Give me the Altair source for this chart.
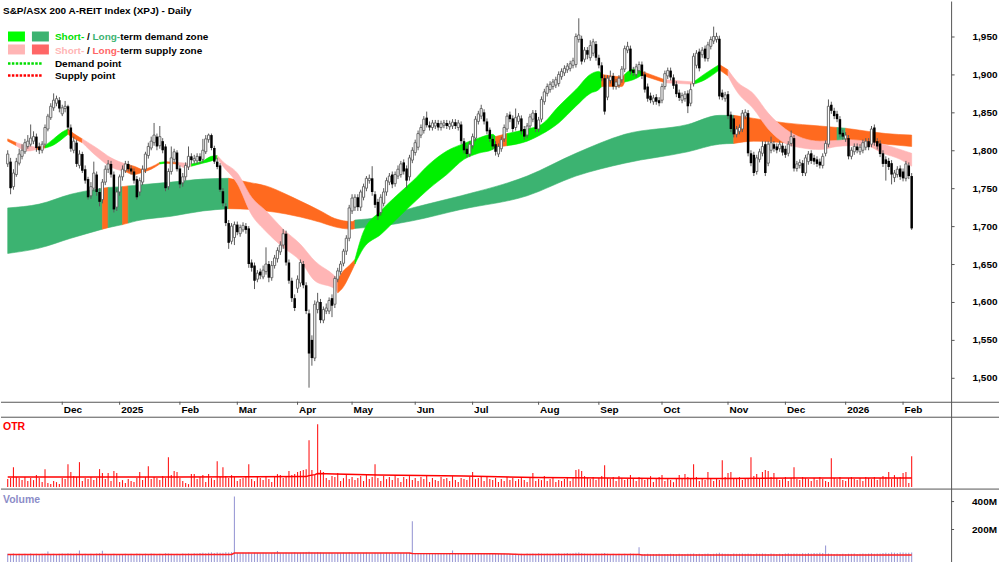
import altair as alt
import pandas as pd

FONT = "Liberation Sans"

# ---------------- daily candles (trading-day index 1..316) ----------------
OPEN = [
    1782,1785,1752,1768,1783,1792,1798,1805,1808,1812,
    1818,1805,1800,1808,1828,1843,1856,1862,1866,1848,
    1855,1858,1830,1800,1810,1780,1795,1775,1762,1740,
    1750,1768,1745,1735,1758,1775,1782,1768,1725,1745,
    1765,1773,1782,1776,1772,1762,1745,1758,1775,1793,
    1803,1810,1818,1806,1812,1805,1752,1772,1788,1797,
    1776,1757,1765,1778,1792,1786,1786,1792,1788,1798,
    1814,1820,1803,1785,1780,1746,1726,1704,1680,1685,
    1702,1690,1695,1700,1697,1652,1648,1630,1640,1633,
    1640,1650,1632,1648,1657,1666,1675,1690,1652,1628,
    1605,1618,1625,1650,1622,1585,1550,1526,1590,1600,
    1576,1588,1588,1605,1597,1630,1640,1651,1667,1684,
    1720,1725,1738,1725,1738,1750,1760,1763,1742,1732,
    1718,1730,1745,1758,1768,1756,1766,1768,1784,1776,
    1765,1787,1797,1804,1820,1826,1843,1833,1830,1832,
    1836,1830,1833,1836,1831,1832,1837,1830,1834,1812,
    1802,1795,1806,1816,1838,1845,1850,1838,1827,1815,
    1808,1795,1802,1815,1828,1847,1842,1830,1838,1842,
    1828,1820,1832,1841,1849,1828,1841,1864,1875,1880,
    1884,1886,1888,1897,1902,1906,1908,1912,1913,1946,
    1947,1920,1932,1922,1928,1940,1922,1912,1895,1870,
    1892,1898,1884,1886,1893,1907,1932,1934,1906,1900,
    1905,1913,1900,1884,1872,1864,1870,1866,1866,1884,
    1898,1905,1896,1887,1876,1866,1868,1875,1862,1888,
    1912,1930,1926,1934,1921,1937,1944,1946,1947,1876,
    1868,1874,1847,1842,1821,1825,1828,1845,1849,1796,
    1794,1772,1788,1796,1808,1783,1800,1808,1805,1802,
    1806,1802,1796,1809,1816,1776,1780,1783,1770,1785,
    1796,1790,1788,1785,1780,1796,1808,1860,1852,1848,
    1841,1823,1815,1816,1792,1798,1805,1798,1800,1804,
    1812,1808,1830,1812,1809,1796,1788,1786,1783,1764,
    1768,1776,1772,1763,1780,1766,
]
HIGH = [
    1800,1790,1775,1790,1802,1808,1815,1820,1834,1825,
    1822,1810,1812,1834,1848,1862,1875,1872,1870,1860,
    1865,1860,1834,1818,1814,1800,1798,1780,1765,1758,
    1785,1772,1750,1762,1780,1787,1786,1772,1750,1768,
    1780,1786,1786,1780,1776,1766,1764,1780,1798,1810,
    1818,1836,1822,1832,1816,1808,1776,1805,1802,1800,
    1780,1770,1784,1805,1796,1794,1796,1796,1815,1820,
    1822,1822,1806,1790,1783,1750,1730,1708,1704,1706,
    1706,1702,1705,1704,1700,1656,1652,1642,1644,1648,
    1672,1654,1654,1662,1672,1680,1696,1694,1656,1632,
    1610,1635,1656,1654,1626,1590,1556,1602,1612,1604,
    1594,1598,1606,1610,1634,1645,1654,1670,1688,1728,
    1742,1742,1742,1748,1756,1766,1768,1779,1746,1736,
    1742,1750,1764,1770,1772,1772,1780,1786,1788,1780,
    1794,1804,1814,1826,1834,1845,1851,1838,1840,1840,
    1840,1839,1840,1840,1839,1841,1841,1840,1838,1816,
    1806,1812,1822,1845,1852,1860,1854,1842,1830,1819,
    1812,1809,1818,1834,1849,1851,1846,1855,1849,1846,
    1832,1836,1848,1853,1853,1844,1871,1881,1888,1891,
    1894,1897,1904,1908,1912,1915,1918,1922,1954,1974,
    1951,1936,1936,1945,1947,1944,1926,1916,1899,1899,
    1905,1902,1894,1899,1911,1938,1943,1938,1910,1914,
    1917,1917,1904,1888,1876,1873,1874,1870,1888,1905,
    1909,1909,1900,1891,1880,1876,1878,1879,1888,1928,
    1932,1934,1936,1938,1943,1950,1963,1955,1951,1880,
    1877,1878,1851,1846,1832,1834,1853,1854,1853,1800,
    1798,1794,1802,1812,1812,1812,1818,1812,1809,1812,
    1810,1806,1812,1826,1820,1786,1788,1787,1794,1799,
    1800,1794,1792,1789,1796,1813,1867,1864,1856,1852,
    1845,1827,1824,1820,1804,1809,1809,1808,1814,1816,
    1816,1832,1834,1816,1813,1800,1792,1790,1787,1774,
    1779,1780,1776,1786,1784,1770,
]
LOW = [
    1778,1742,1748,1765,1780,1788,1795,1802,1805,1808,
    1798,1795,1796,1805,1825,1840,1852,1858,1850,1845,
    1850,1826,1798,1796,1778,1776,1770,1756,1735,1736,
    1746,1740,1726,1730,1754,1770,1764,1718,1720,1740,
    1760,1770,1772,1768,1756,1735,1740,1754,1770,1789,
    1800,1806,1800,1802,1796,1746,1748,1768,1784,1772,
    1750,1752,1760,1774,1782,1782,1782,1782,1784,1795,
    1810,1800,1782,1775,1745,1726,1700,1670,1676,1675,
    1688,1686,1692,1690,1645,1640,1617,1626,1630,1630,
    1636,1626,1628,1644,1652,1662,1670,1648,1624,1600,
    1588,1612,1620,1618,1584,1487,1516,1522,1585,1572,
    1572,1584,1584,1580,1592,1626,1636,1647,1662,1680,
    1716,1720,1720,1720,1734,1746,1756,1740,1724,1708,
    1714,1726,1740,1754,1750,1752,1762,1764,1768,1750,
    1760,1783,1793,1800,1816,1822,1830,1826,1826,1828,
    1826,1826,1829,1828,1827,1828,1828,1826,1808,1796,
    1790,1791,1802,1812,1834,1841,1834,1821,1811,1801,
    1793,1791,1798,1811,1824,1837,1824,1826,1834,1821,
    1814,1816,1828,1837,1824,1824,1837,1860,1871,1876,
    1880,1882,1884,1893,1898,1902,1904,1908,1909,1942,
    1913,1916,1920,1918,1924,1918,1908,1891,1847,1866,
    1888,1880,1880,1882,1889,1903,1928,1900,1898,1896,
    1901,1894,1876,1864,1862,1860,1860,1858,1862,1880,
    1894,1892,1881,1870,1865,1862,1864,1849,1858,1884,
    1908,1904,1922,1917,1917,1933,1940,1942,1867,1866,
    1864,1841,1824,1817,1817,1821,1824,1841,1792,1779,
    1766,1768,1784,1792,1766,1779,1796,1798,1796,1798,
    1793,1790,1792,1805,1772,1772,1776,1766,1766,1781,
    1782,1781,1778,1776,1776,1792,1804,1848,1841,1837,
    1817,1814,1811,1788,1788,1794,1796,1794,1796,1800,
    1800,1804,1806,1801,1791,1778,1760,1774,1755,1758,
    1764,1761,1759,1759,1762,1695,
]
CLOSE = [
    1795,1750,1770,1785,1795,1800,1810,1812,1816,1818,
    1803,1800,1808,1830,1845,1858,1866,1868,1855,1856,
    1858,1830,1802,1812,1782,1795,1773,1760,1738,1752,
    1770,1745,1732,1758,1775,1782,1768,1722,1745,1765,
    1775,1782,1775,1772,1760,1738,1760,1775,1795,1805,
    1812,1820,1805,1818,1800,1750,1772,1790,1798,1775,
    1755,1765,1780,1792,1787,1789,1792,1786,1800,1815,
    1820,1803,1785,1778,1748,1730,1704,1678,1700,1702,
    1692,1698,1701,1695,1650,1645,1628,1638,1635,1642,
    1650,1632,1648,1658,1668,1675,1690,1652,1628,1605,
    1592,1630,1652,1622,1588,1532,1526,1597,1600,1576,
    1590,1592,1602,1595,1631,1641,1650,1667,1684,1724,
    1737,1738,1725,1745,1752,1763,1763,1745,1728,1713,
    1738,1745,1760,1766,1755,1768,1775,1782,1772,1760,
    1790,1800,1810,1822,1830,1841,1833,1830,1836,1836,
    1830,1835,1836,1832,1835,1837,1832,1836,1812,1800,
    1795,1808,1818,1841,1848,1855,1838,1825,1815,1805,
    1798,1805,1814,1830,1845,1841,1828,1843,1845,1825,
    1818,1832,1844,1849,1828,1840,1867,1877,1884,1887,
    1890,1893,1900,1904,1908,1911,1914,1918,1950,1952,
    1917,1932,1926,1938,1943,1922,1912,1895,1851,1895,
    1897,1884,1890,1895,1907,1934,1937,1904,1902,1910,
    1913,1898,1880,1868,1866,1869,1864,1862,1884,1901,
    1905,1896,1885,1874,1869,1872,1874,1858,1880,1924,
    1928,1908,1932,1921,1939,1946,1950,1950,1871,1870,
    1873,1845,1828,1821,1828,1830,1849,1850,1796,1783,
    1770,1790,1798,1805,1770,1808,1810,1802,1800,1808,
    1797,1794,1808,1818,1776,1782,1784,1770,1790,1795,
    1786,1785,1782,1780,1792,1809,1858,1852,1845,1841,
    1821,1818,1820,1792,1800,1805,1800,1804,1810,1812,
    1804,1828,1810,1805,1795,1782,1782,1778,1768,1770,
    1775,1765,1763,1782,1766,1697,
]

# ---------------- OTR and volume (per day) ----------------
OTR = [
    8,9,20,10,9,7,10,6,9,7,12,9,5,18,4,3,6,5,3,9,
    8,23,15,11,10,25,6,9,8,10,7,9,18,14,8,14,6,16,14,5,
    7,4,8,6,5,9,15,7,10,21,8,10,9,7,11,9,30,12,16,15,
    9,6,4,3,13,13,8,10,12,5,13,9,7,26,10,20,11,9,12,10,
    6,8,9,10,23,8,6,10,9,7,11,8,5,10,13,12,9,11,16,12,
    13,15,16,17,18,47,17,12,63,17,15,9,7,11,10,14,6,9,12,8,
    10,7,9,11,6,12,8,10,23,9,6,11,8,10,7,12,9,5,10,8,
    11,7,9,6,10,8,12,5,9,7,6,10,8,9,6,11,7,5,9,8,
    7,10,15,8,9,11,6,10,8,7,9,5,8,6,10,7,9,6,8,10,
    7,5,9,14,6,8,7,11,6,8,9,5,7,6,8,9,6,10,17,18,
    16,11,9,8,10,7,9,11,22,9,8,10,6,11,9,7,8,12,9,6,
    10,8,7,9,11,5,8,10,12,6,9,7,5,8,12,9,13,10,9,23,
    10,6,8,7,15,8,6,9,7,27,10,14,15,9,8,10,7,9,8,30,
    11,13,9,15,17,16,10,14,9,7,8,10,6,9,20,8,7,10,9,8,
    6,9,7,10,8,6,5,29,9,8,10,7,6,9,10,8,7,9,6,10,
    9,8,10,7,9,11,10,15,8,12,9,10,14,15,4,31,
]
VOLUME_M = [
    26,24,28,25,27,23,26,24,29,25,27,24,26,28,43,25,27,24,26,28,
    27,30,29,26,28,50,25,27,24,26,25,28,30,48,26,22,24,27,25,20,
    22,26,24,27,25,28,26,24,27,25,29,26,24,27,25,30,28,26,24,27,
    25,28,26,29,27,30,28,32,34,30,33,36,31,35,33,34,37,36,38,436,
    32,30,34,31,35,29,33,31,30,34,32,29,31,33,46,30,32,34,31,33,
    35,32,34,36,38,40,36,34,38,35,32,30,33,31,29,32,30,34,31,38,
    33,30,32,29,31,33,30,28,32,30,31,29,33,30,28,31,29,32,30,31,
    33,259,28,26,29,27,25,28,26,29,27,30,28,26,29,50,27,25,28,26,
    27,25,28,26,24,27,25,28,26,24,27,25,26,28,24,27,25,26,24,27,
    25,28,26,29,27,30,28,26,29,27,26,28,30,27,29,31,28,30,33,36,
    30,28,26,27,25,28,26,29,31,27,25,26,24,27,25,26,24,28,26,25,
    73,25,24,26,23,25,24,26,23,25,24,27,25,23,26,24,25,27,26,28,
    25,27,24,26,28,25,27,29,33,28,26,27,25,28,26,27,29,26,28,27,
    25,28,26,29,27,25,28,26,24,27,25,28,30,26,28,29,27,30,28,31,
    29,32,30,33,31,86,28,26,25,27,24,26,25,27,26,28,25,27,29,26,
    28,30,27,29,28,31,33,30,35,34,32,36,35,33,34,36,
]
OTR_AVG_I = [1, 60, 105, 106, 108, 109, 115, 130, 160, 185, 210, 230, 250, 275, 300, 316]
OTR_AVG = [10, 10, 10.5, 11.5, 12.5, 13.5, 13, 12, 11, 9.5, 9, 8.5, 8.5, 9, 9, 9]
VOL_AVG_I = [1, 79, 80, 141, 142, 170, 180, 221, 222, 316]
VOL_AVG_M = [21, 21, 32, 32, 28, 27, 22, 21, 18, 18]

# ---------------- zones ----------------
LONG_I = [1,12,23,34,36,41,43,46,58,69,78,86,91,98,103,110,115,121,122,131,
          142,159,182,199,216,238,249,254,261,272,284,290,293,295,307,316]
LONG_TOP = [1724,1729,1742,1750,1751,1752,1753,1754,1758,1762,1763,1757,1753,1742,1733,1720,1710,1706,1708,1712,
            1724,1740,1766,1796,1821,1834,1846,1846,1842,1836,1832,1830,1829,1828,1822,1820]
LONG_BOT = [1664,1671,1684,1696,1698,1702,1704,1707,1713,1720,1723,1722,1720,1716,1712,1705,1699,1696,1697,1700,
            1707,1722,1740,1766,1783,1798,1808,1809,1812,1810,1808,1810,1811,1811,1808,1805]
LONG_SEGS = [(1, 34, "G"), (34, 36, "O"), (36, 41, "G"), (41, 43, "O"), (43, 78, "G"),
             (78, 122, "O"), (122, 254, "G"), (254, 290, "O"), (290, 293, "G"), (293, 316, "O")]

SHORT_I = [1,4,8,11,14,17,20,22,24,27,32,37,42,45,48,51,54,56,60,63,
           65,69,72,74,76,81,86,91,97,103,108,115,116,118,120,122,125,131,137,142,
           148,154,160,165,170,171,175,182,187,193,199,204,207,208,215,216,219,222,230,240,
           244,249,252,255,261,266,272,278,284,290,294,300,306,312,316]
SHORT_TOP = [1815,1810,1806,1804,1806,1815,1824,1828,1822,1815,1803,1790,1782,1779,1775,1778,1784,1785,1784,1783,
             1782,1786,1792,1793,1785,1770,1738,1720,1696,1676,1654,1634,1630,1641,1648,1656,1693,1720,1742,1759,
             1782,1799,1809,1816,1821,1818,1822,1828,1834,1858,1880,1900,1904,1900,1897,1900,1907,1904,1893,1890,
             1901,1913,1906,1891,1874,1849,1828,1816,1812,1813,1814,1812,1808,1801,1796]
SHORT_BOT = [1812,1806,1799,1801,1803,1807,1815,1821,1816,1810,1792,1778,1772,1768,1771,1775,1782,1783,1782,1777,
             1779,1783,1786,1789,1779,1756,1715,1693,1672,1654,1628,1617,1612,1620,1634,1650,1671,1689,1711,1729,
             1750,1768,1788,1796,1801,1804,1806,1812,1821,1836,1858,1875,1880,1884,1884,1890,1893,1899,1889,1887,
             1893,1906,1898,1878,1854,1828,1809,1803,1801,1805,1806,1806,1796,1788,1779]
SHORT_SEGS = [(1, 4, "O"), (4, 11, "P"), (11, 14, "O"), (14, 22, "L"), (22, 27, "O"), (27, 42, "P"),
              (42, 54, "O"), (54, 56, "L"), (56, 60, "O"), (60, 65, "P"), (65, 74, "L"), (74, 116, "P"),
              (116, 122, "O"), (122, 171, "L"), (171, 175, "O"), (175, 208, "L"), (208, 216, "O"),
              (216, 222, "L"), (222, 230, "O"), (230, 240, "P"), (240, 249, "L"), (249, 252, "O"),
              (252, 316, "P")]

MONTH_IDX = [20, 40, 61, 81, 102, 121, 143, 163, 186, 207, 229, 252, 272, 293, 313]
MONTH_LBL = ["Dec", "2025", "Feb", "Mar", "Apr", "May", "Jun", "Jul", "Aug", "Sep",
             "Oct", "Nov", "Dec", "2026", "Feb"]
PRICE_TICKS = [1500, 1550, 1600, 1650, 1700, 1750, 1800, 1850, 1900, 1950]
VOL_TICKS = [200, 400]
VOL_TICK_LBL = ["200M", "400M"]

ZONE_COLORS = {"G": "#3CB371", "O": "#FF6A1F", "P": "#FFB5B5", "L": "#00F000"}

# ---------------- frames ----------------
idx = list(range(1, len(CLOSE) + 1))
candles = pd.DataFrame({"i": idx, "o": OPEN, "h": HIGH, "l": LOW, "c": CLOSE})
candles["up"] = candles["c"] >= candles["o"]


def zone_frame(ii, top, bot, segs, prefix):
    rows = []
    for k, (s, e, col) in enumerate(segs):
        for i, t, b in zip(ii, top, bot):
            if s <= i <= e:
                rows.append({"seg": f"{prefix}{k}", "i": i, "top": t, "bot": b,
                             "col": ZONE_COLORS[col]})
    return pd.DataFrame(rows)


long_df = zone_frame(LONG_I, LONG_TOP, LONG_BOT, LONG_SEGS, "L")
short_df = zone_frame(SHORT_I, SHORT_TOP, SHORT_BOT, SHORT_SEGS, "S")
otr_df = pd.DataFrame({"i": idx, "v": OTR})
vol_df = pd.DataFrame({"i": idx, "v": VOLUME_M})
otr_avg_df = pd.DataFrame({"i": OTR_AVG_I, "v": OTR_AVG})
vol_avg_df = pd.DataFrame({"i": VOL_AVG_I, "v": VOL_AVG_M})
month_df = pd.DataFrame({"i": MONTH_IDX, "lbl": MONTH_LBL})
vtick_df = pd.DataFrame({"v": VOL_TICKS, "lbl": VOL_TICK_LBL})
dummy = pd.DataFrame({"a": [0]})

# ---------------- one plot area, three stacked value scales ----------------
W = 952
H = 562
LINE = "#555555"

xs = alt.Scale(domain=[0.4, 328.0], nice=False, zero=False)
# price: 1,950 at y=35, 1,500 at y=377 (main panel occupies y 0-401)
ys = alt.Scale(domain=[1256.58, 1996.05], nice=False, zero=False)
# OTR: baseline at y=486.5, panel y 416-488
otr_s = alt.Scale(domain=[-75.5, 486.5], nice=False, zero=False)
# volume (millions): 400M at y=501, 200M at y=529
vol_s = alt.Scale(domain=[-35.7, 3978.6], nice=False, zero=False)

y_axis = alt.Axis(orient="right", values=PRICE_TICKS, format=",.0f", domain=False, ticks=True,
                  tickSize=3, tickColor=LINE, labelPadding=18, labelAlign="left",
                  labelFont=FONT, labelFontSize=10, labelFontWeight="bold", labelColor="#000000",
                  grid=False, title=None, minExtent=46, maxExtent=46)

X = alt.X("i:Q", scale=xs, axis=None)


def txt(x, y, s, color, size=10):
    return alt.Chart(dummy).mark_text(align="left", baseline="alphabetic", font=FONT,
                                      fontSize=size, fontWeight="bold", color=color,
                                      text=s).encode(x=alt.value(x), y=alt.value(y))


def box(x1, x2, y1, y2, color):
    return alt.Chart(dummy).mark_rect(color=color).encode(
        x=alt.value(x1), x2=alt.value(x2), y=alt.value(y1), y2=alt.value(y2))


def hline(x1, x2, y, color=LINE, width=1, dash=None):
    kw = dict(color=color, strokeWidth=width)
    if dash:
        kw["strokeDash"] = dash
    return alt.Chart(dummy).mark_rule(**kw).encode(x=alt.value(x1), x2=alt.value(x2), y=alt.value(y))


def vline(x, y1, y2, color=LINE):
    return alt.Chart(dummy).mark_rule(color=color, strokeWidth=1).encode(
        x=alt.value(x), y=alt.value(y1), y2=alt.value(y2))


# ---------------- price panel ----------------
long_area = alt.Chart(long_df).mark_area(interpolate="monotone", strokeWidth=0.6).encode(
    x=X, y=alt.Y("top:Q", scale=ys, axis=y_axis), y2="bot:Q",
    color=alt.Color("col:N", scale=None),
    stroke=alt.Stroke("col:N", scale=None),
    detail="seg:N",
)
short_area = alt.Chart(short_df).mark_area(interpolate="monotone", strokeWidth=0.6).encode(
    x=X, y=alt.Y("top:Q", scale=ys, axis=None), y2="bot:Q",
    color=alt.Color("col:N", scale=None),
    stroke=alt.Stroke("col:N", scale=None),
    detail="seg:N",
)
wicks = alt.Chart(candles).mark_rule(color="#5A5A5A", strokeWidth=1).encode(
    x=X, y=alt.Y("l:Q", scale=ys, axis=None), y2="h:Q",
)
up_bodies = alt.Chart(candles).transform_filter("datum.up").mark_bar(
    size=2.2, fill="#FFFFFF", stroke="#5E5E5E", strokeWidth=0.9).encode(
    x=X, y=alt.Y("o:Q", scale=ys, axis=None), y2="c:Q",
)
down_bodies = alt.Chart(candles).transform_filter("!datum.up").mark_bar(
    size=2.5, color="#000000").encode(
    x=X, y=alt.Y("o:Q", scale=ys, axis=None), y2="c:Q",
)

# month strip (y 401-416)
month_ticks = alt.Chart(month_df).mark_rule(color=LINE, strokeWidth=1).encode(
    x=X, y=alt.value(401), y2=alt.value(404))
month_text = alt.Chart(month_df).mark_text(
    align="left", baseline="middle", dx=1.5, font=FONT, fontSize=10, fontWeight="bold",
    color="#000000").encode(x=X, y=alt.value(409), text="lbl:N")

# ---------------- OTR panel ----------------
otr_bars = alt.Chart(otr_df).mark_rule(color="#FF1A1A", strokeWidth=1.1).encode(
    x=X, y=alt.Y("v:Q", scale=otr_s, axis=None), y2=alt.datum(0),
)
otr_line = alt.Chart(otr_avg_df).mark_line(color="#FF0000", strokeWidth=1.5).encode(
    x=X, y=alt.Y("v:Q", scale=otr_s, axis=None),
)

# ---------------- Volume panel ----------------
vol_bars = alt.Chart(vol_df).mark_rule(color="#9B9BD6", strokeWidth=1.1).encode(
    x=X, y=alt.Y("v:Q", scale=vol_s, axis=None), y2=alt.datum(-35.7),
)
vol_line = alt.Chart(vol_avg_df).mark_line(color="#FF2020", strokeWidth=1.5).encode(
    x=X, y=alt.Y("v:Q", scale=vol_s, axis=None),
)
vol_ticks = alt.Chart(vtick_df).mark_rule(color=LINE, strokeWidth=1).encode(
    x=alt.value(W), x2=alt.value(W + 3), y=alt.Y("v:Q", scale=vol_s, axis=None))
vol_text = alt.Chart(vtick_df).mark_text(
    align="left", baseline="middle", font=FONT, fontSize=10, fontWeight="bold",
    color="#000000").encode(x=alt.value(973), y=alt.Y("v:Q", scale=vol_s, axis=None), text="lbl:N")

legend = [
    txt(2, 12, "S&P/ASX 200 A-REIT Index (XPJ) - Daily", "#000000", 10),
    box(7, 24, 30, 40, "#00FF00"), box(31, 48, 30, 40, "#3CB371"),
    box(7, 24, 43, 53, "#FFB5B5"), box(31, 48, 43, 53, "#FF6666"),
    txt(54, 39, "Short-", "#00E000"), txt(86.2, 39, "/", "#000000"),
    txt(91.7, 39, "Long-", "#3CB371"), txt(119.5, 39, "term demand zone", "#000000"),
    txt(54, 52.5, "Short-", "#FFB5B5"), txt(86.2, 52.5, "/", "#000000"),
    txt(91.7, 52.5, "Long-", "#FF6666"), txt(119.5, 52.5, "term supply zone", "#000000"),
    hline(7, 42, 62, "#00DD00", 2.5, [2.5, 1.4]), txt(54, 65.5, "Demand point", "#000000"),
    hline(7, 42, 74, "#FF0000", 2.5, [2.5, 1.4]), txt(54, 78, "Supply point", "#000000"),
    txt(2, 429, "OTR", "#FF0000", 10.5),
    txt(2, 502.5, "Volume", "#8C8CC8", 10.5),
]
frame = [
    hline(0, 1000, 401.5), hline(0, 1000, 416.5), hline(0, 1000, 488.5),
    vline(W + 0.5, 0, H),
]

chart = (
    alt.layer(
        long_area, short_area, wicks, up_bodies, down_bodies,
        month_ticks, month_text,
        otr_bars, otr_line, vol_bars, vol_line, vol_ticks, vol_text,
        *legend, *frame,
    )
    .resolve_scale(y="independent")
    .properties(width=W, height=H, padding=0)
    .configure_view(stroke=None)
)
chart.save("out.html", embed_options={"renderer": "svg", "actions": False})
